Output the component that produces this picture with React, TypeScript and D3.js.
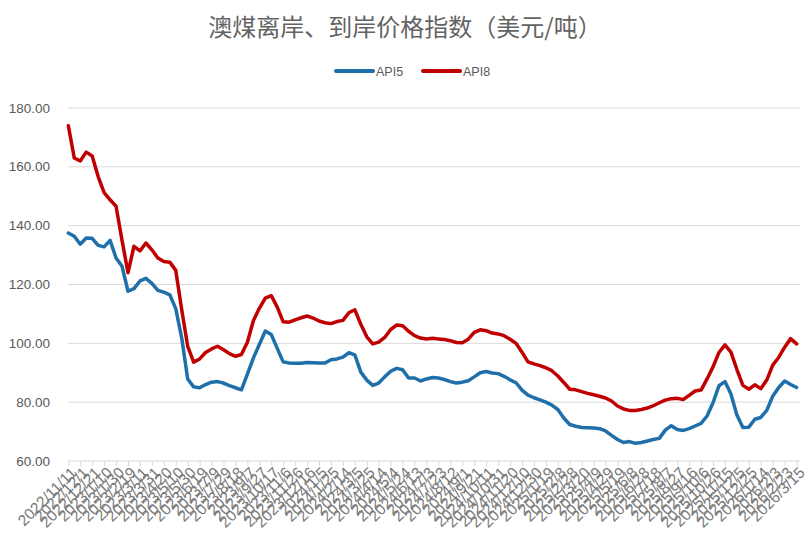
import React, { useEffect, useRef } from "react";
import * as d3 from "d3";

// x-axis category labels (every 20 days)
const tickLabels = [
  "2022/11/11", "2022/12/1", "2022/12/21", "2023/1/10", "2023/1/30", "2023/2/19",
  "2023/3/11", "2023/3/31", "2023/4/20", "2023/5/10", "2023/5/30", "2023/6/19",
  "2023/7/9", "2023/7/29", "2023/8/18", "2023/9/7", "2023/9/27", "2023/10/17",
  "2023/11/6", "2023/11/26", "2023/12/16", "2024/1/5", "2024/1/25", "2024/2/14",
  "2024/3/5", "2024/3/25", "2024/4/14", "2024/5/4", "2024/5/24", "2024/6/13",
  "2024/7/3", "2024/7/23", "2024/8/12", "2024/9/1", "2024/9/21", "2024/10/11",
  "2024/10/31", "2024/11/20", "2024/12/10", "2024/12/30", "2025/1/19", "2025/2/8",
  "2025/2/28", "2025/3/20", "2025/4/9", "2025/4/29", "2025/5/19", "2025/6/8",
  "2025/6/28", "2025/7/18", "2025/8/7", "2025/8/27", "2025/9/16", "2025/10/6",
  "2025/10/26", "2025/11/15", "2025/12/5", "2025/12/25", "2026/1/14", "2026/2/3",
  "2026/2/23", "2026/3/15",
];

const yTicks = [60, 80, 100, 120, 140, 160, 180];

// readings every 10 days starting 2022/11/11
const api5 = [
  137.5, 136.4, 133.7, 135.8, 135.7, 133.3, 132.8, 135.0, 129.0, 126.2,
  117.7, 118.6, 121.2, 122.1, 120.4, 118.0, 117.4, 116.5, 111.8, 101.8,
  87.9, 85.2, 84.9, 86.0, 86.8, 87.0, 86.5, 85.6, 84.9, 84.2,
  89.5, 95.0, 99.6, 104.2, 103.0, 98.3, 93.7, 93.3, 93.2, 93.2,
  93.5, 93.4, 93.3, 93.3, 94.4, 94.7, 95.3, 96.8, 96.1, 90.2,
  87.5, 85.7, 86.5, 88.6, 90.5, 91.5, 91.0, 88.2, 88.2, 87.2,
  87.9, 88.4, 88.2, 87.7, 87.0, 86.5, 86.8, 87.3, 88.6, 90.0,
  90.4, 89.9, 89.7, 88.8, 87.6, 86.6, 84.1, 82.4, 81.5, 80.8,
  80.0, 79.0, 77.5, 74.6, 72.4, 71.8, 71.4, 71.3, 71.2, 71.0,
  70.2, 68.7, 67.3, 66.3, 66.6, 66.0, 66.3, 66.8, 67.3, 67.7,
  70.5, 72.0, 70.7, 70.4, 71.0, 71.9, 72.8, 75.3, 79.8, 85.6,
  87.0, 82.8, 75.6, 71.4, 71.5, 74.2, 74.8, 77.2, 82.0, 85.0,
  87.2, 86.0, 85.0,
];

const api8 = [
  174.0, 163.0, 162.0, 165.0, 163.7, 156.7, 151.2, 148.8, 146.6, 135.0,
  124.0, 133.0, 131.4, 134.1, 131.8, 129.0, 127.8, 127.6, 124.8, 111.4,
  99.0, 93.6, 94.7, 96.9, 98.1, 99.0, 97.8, 96.5, 95.6, 96.2,
  100.4, 107.7, 111.9, 115.4, 116.2, 112.3, 107.3, 107.2, 108.0, 108.7,
  109.3, 108.6, 107.6, 107.0, 106.7, 107.4, 107.8, 110.4, 111.4, 106.5,
  102.2, 99.8, 100.4, 102.0, 104.7, 106.2, 106.0, 104.1, 102.6, 101.8,
  101.5, 101.7, 101.5, 101.3, 100.9, 100.3, 100.2, 101.4, 103.7, 104.6,
  104.3, 103.5, 103.2, 102.6, 101.4, 100.0, 97.0, 93.7, 93.0, 92.4,
  91.7, 90.7, 88.9, 86.7, 84.4, 84.2, 83.6, 83.0, 82.5, 82.0,
  81.4, 80.4, 78.7, 77.7, 77.2, 77.2, 77.5, 78.0, 78.8, 79.8,
  80.7, 81.2, 81.3, 80.9, 82.3, 83.8, 84.1, 87.9, 92.0, 96.9,
  99.5, 97.0, 91.1, 85.7, 84.4, 85.9, 84.6, 87.5, 92.6, 95.2,
  98.7, 101.6, 99.8,
];

const seriesNames = ["API5", "API8"];
const seriesColors = ["#1f70aa", "#c00000"];

const W = 811, H = 547;

export default function App() {
  const ref = useRef<SVGSVGElement | null>(null);

  useEffect(() => {
    if (!ref.current) return;
    const svg = d3.select(ref.current);
    svg.selectAll("*").remove();

    const parse = d3.timeParse("%Y/%m/%d");
    const tickDates = tickLabels.map(s => parse(s) as Date);
    const start = tickDates[0];
    const dates = api5.map((_, i) => d3.timeDay.offset(start, i * 10));

    const left = 68, right = 800, top = 108, bottom = 461;
    const x = d3.scaleTime()
      .domain([start, tickDates[tickDates.length - 1]])
      .range([68.3, 796.6]);
    const y = d3.scaleLinear().domain([60, 180]).range([bottom, top]);

    svg.append("rect").attr("width", W).attr("height", H).attr("fill", "#fff");

    // title
    svg.append("text")
      .attr("x", 405).attr("y", 36)
      .attr("text-anchor", "middle")
      .attr("font-family", "'Noto Sans CJK SC', sans-serif")
      .attr("font-size", 24)
      .attr("fill", "#636363")
      .text("澳煤离岸、到岸价格指数（美元/吨）");

    // legend
    const legend = svg.append("g").attr("font-family", "'Liberation Sans', Arial, sans-serif");
    const legendX = [336, 423];
    seriesNames.forEach((name, i) => {
      legend.append("line")
        .attr("x1", legendX[i]).attr("x2", legendX[i] + 37)
        .attr("y1", 71).attr("y2", 71)
        .attr("stroke", seriesColors[i]).attr("stroke-width", 4)
        .attr("stroke-linecap", "round");
      legend.append("text")
        .attr("x", legendX[i] + 40).attr("y", 75.5)
        .attr("font-size", 12.5).attr("fill", "#595959")
        .text(name);
    });

    // gridlines
    svg.append("g")
      .selectAll("line")
      .data(yTicks.slice(1))
      .join("line")
      .attr("x1", left).attr("x2", right)
      .attr("y1", d => y(d)).attr("y2", d => y(d))
      .attr("stroke", "#d9d9d9").attr("stroke-width", 1);

    // y labels
    svg.append("g")
      .selectAll("text")
      .data(yTicks)
      .join("text")
      .attr("x", 50).attr("y", d => y(d) + 4.5)
      .attr("text-anchor", "end")
      .attr("font-family", "'Liberation Sans', Arial, sans-serif")
      .attr("font-size", 13.5)
      .attr("fill", "#595959")
      .text(d => d.toFixed(2));

    // x axis
    const xAxis = svg.append("g")
      .attr("transform", `translate(0,${bottom})`)
      .call(d3.axisBottom(x)
        .tickValues(tickDates)
        .tickSize(5)
        .tickSizeOuter(0)
        .tickFormat((_, i) => tickLabels[i]));
    xAxis.select(".domain").attr("stroke", "#d9d9d9").attr("d", `M${left},0H${right}`);
    xAxis.selectAll(".tick line").attr("stroke", "#d9d9d9");
    xAxis.selectAll(".tick text")
      .attr("font-family", "'Liberation Sans', Arial, sans-serif")
      .attr("font-size", 15.5)
      .attr("fill", "#7a7a7a")
      .attr("text-anchor", "end")
      .attr("y", 0)
      .attr("dy", "0.7em")
      .attr("transform", "translate(1,5) rotate(-45)");

    // lines
    const line = d3.line<number>()
      .x((_, i) => x(dates[i]))
      .y(d => y(d))
      .curve(d3.curveLinear);

    [api5, api8].forEach((s, i) => {
      svg.append("path")
        .datum(s)
        .attr("d", line)
        .attr("fill", "none")
        .attr("stroke", seriesColors[i])
        .attr("stroke-width", 3.5)
        .attr("stroke-linejoin", "round")
        .attr("stroke-linecap", "round");
    });
  }, []);

  return (
    <svg ref={ref} width={W} height={H}
      style={{ position: "absolute", left: 0, top: 0, background: "#fff" }} />
  );
}
